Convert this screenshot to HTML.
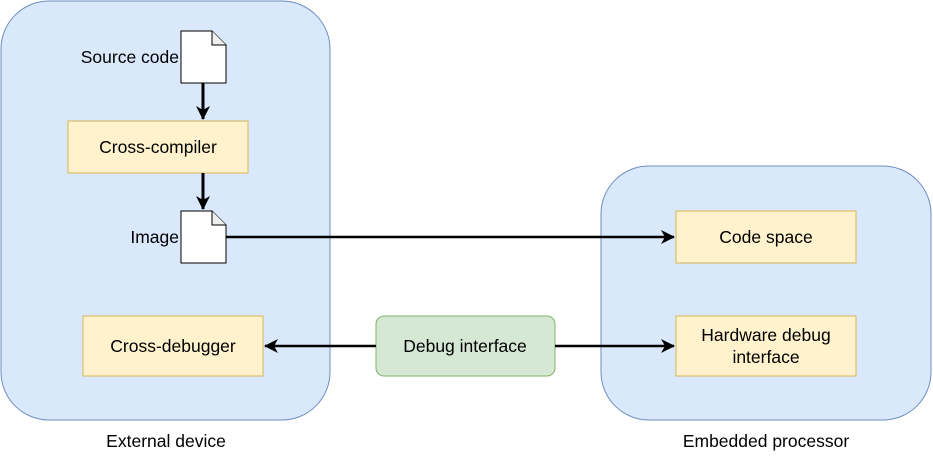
<!DOCTYPE html>
<html><head><style>body{margin:0;background:#fff}</style></head><body>
<svg width="933" height="453" xmlns="http://www.w3.org/2000/svg" font-family="Liberation Sans, sans-serif" font-size="17.5">
<defs>
<marker id="b" markerWidth="14" markerHeight="14" refX="13" refY="7" orient="auto" markerUnits="userSpaceOnUse"><path d="M0,0 L14,7 L0,14 L4,7 Z" fill="#000"/></marker></defs>
<rect x="1" y="1" width="329" height="419" rx="48" fill="#dae8fc" stroke="#6c8ebf"/>
<rect x="601" y="166" width="330" height="254" rx="48" fill="#dae8fc" stroke="#6c8ebf"/>
<rect x="68" y="121" width="180" height="52" fill="#fff2cc" stroke="#d6b656"/>
<text x="158" y="153" text-anchor="middle">Cross-compiler</text>
<rect x="83" y="316" width="180" height="60" fill="#fff2cc" stroke="#d6b656"/>
<text x="173" y="352" text-anchor="middle">Cross-debugger</text>
<rect x="676" y="211" width="180" height="52" fill="#fff2cc" stroke="#d6b656"/>
<text x="766" y="243" text-anchor="middle">Code space</text>
<rect x="676" y="316" width="180" height="60" fill="#fff2cc" stroke="#d6b656"/>
<text x="766" y="341" text-anchor="middle">Hardware debug</text>
<text x="766" y="363" text-anchor="middle">interface</text>
<rect x="376" y="316" width="179" height="60" rx="8" fill="#d5e8d4" stroke="#82b366"/>
<text x="465" y="352" text-anchor="middle">Debug interface</text>
<g stroke="#000" fill="#fff">
<path d="M181,31 H212 L226,45 V83 H181 Z"/><path d="M212,31 V45 H226" fill="#eee"/>
<path d="M181,211 H212 L226,225 V263 H181 Z"/><path d="M212,211 V225 H226" fill="#eee"/>
</g>
<text x="179" y="63" text-anchor="end">Source code</text>
<text x="179" y="243" text-anchor="end">Image</text>
<g stroke="#000" stroke-width="3" fill="none">
<line x1="203" y1="83" x2="203" y2="119" marker-end="url(#b)"/>
<line x1="203" y1="173" x2="203" y2="209" marker-end="url(#b)"/>
</g>
<g stroke="#000" stroke-width="2.5" fill="none">
<line x1="226" y1="237" x2="674" y2="237" marker-end="url(#b)"/>
<line x1="376" y1="346" x2="265" y2="346" marker-end="url(#b)"/>
<line x1="555" y1="346" x2="674" y2="346" marker-end="url(#b)"/>
</g>
<text x="166" y="447" text-anchor="middle">External device</text>
<text x="766" y="447" text-anchor="middle">Embedded processor</text>
</svg>
</body></html>
